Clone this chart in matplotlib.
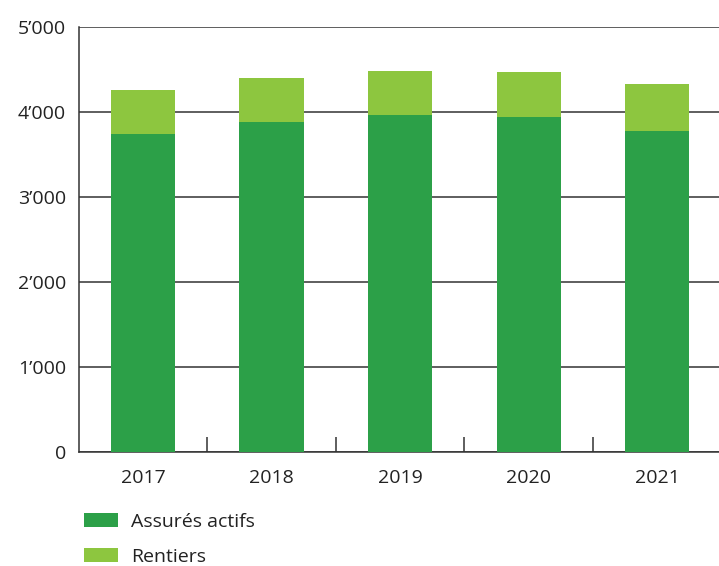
import matplotlib.pyplot as plt
from matplotlib.ticker import FuncFormatter, FixedLocator

years = ['2017', '2018', '2019', '2020', '2021']
actifs = [3745, 3886, 3968, 3945, 3784]
rentiers = [514, 518, 518, 529, 545]

dark_green = '#2ca048'
light_green = '#8dc63f'
line_col = '#333333'

plt.rcParams['font.family'] = ['Open Sans', 'DejaVu Sans']

fig = plt.figure(figsize=(7.19, 5.66), dpi=100)
ax = fig.add_axes([0.1095, 0.2009, 0.8905, 0.7509])

x = range(len(years))
ax.bar(x, actifs, width=0.5, color=dark_green, label='Assurés actifs', zorder=3)
ax.bar(x, rentiers, width=0.5, bottom=actifs, color=light_green,
       label='Rentiers', zorder=3)

ax.set_ylim(0, 5000)
ax.set_xlim(-0.5, 4.48)
ax.set_yticks([0, 1000, 2000, 3000, 4000, 5000])
ax.yaxis.set_major_formatter(FuncFormatter(lambda v, p: f'{int(v):,}'.replace(',', '\u2019')))
ax.grid(axis='y', color=line_col, linewidth=1.1, zorder=1)
ax.set_axisbelow(True)

# category labels without ticks, separator ticks between categories
ax.set_xticks(list(x))
ax.set_xticklabels(years)
ax.tick_params(axis='x', which='major', length=0, pad=12, labelsize=14, colors='#222222')
ax.xaxis.set_minor_locator(FixedLocator([0.5, 1.5, 2.5, 3.5]))
ax.tick_params(axis='x', which='minor', direction='in', length=11, width=1.1, color=line_col)
ax.tick_params(axis='y', length=0, pad=9, labelsize=14, colors='#222222')

for s in ['top', 'right']:
    ax.spines[s].set_visible(False)
for s in ['left', 'bottom']:
    ax.spines[s].set_color(line_col)
    ax.spines[s].set_linewidth(1.1)

fig.legend(loc='upper left', bbox_to_anchor=(0.1168, 0.0936), frameon=False,
           fontsize=14, handlelength=1.75, handleheight=0.7,
           handletextpad=0.65, labelspacing=0.85, borderaxespad=0,
           borderpad=0, labelcolor='#222222')

fig.savefig('out.png', dpi=100)
